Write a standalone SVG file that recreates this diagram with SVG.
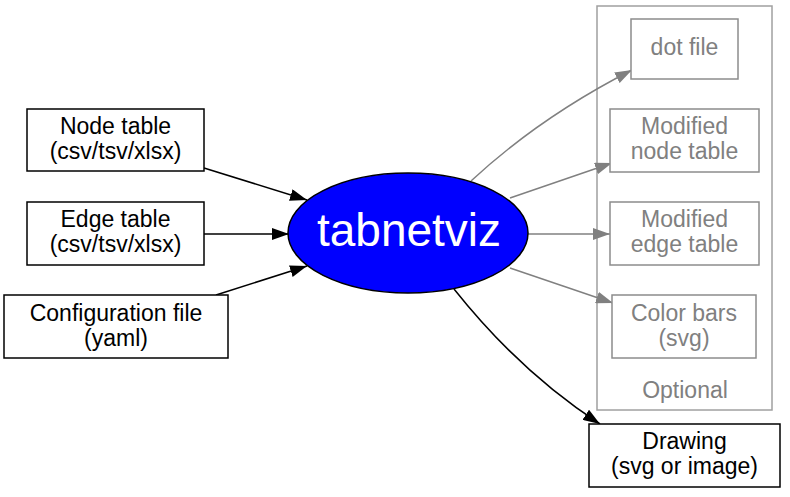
<svg xmlns="http://www.w3.org/2000/svg" width="790" height="497" viewBox="0 0 790 497">
<defs>
<marker id="ab" markerWidth="17" markerHeight="12" refX="17" refY="6" orient="auto" markerUnits="userSpaceOnUse"><path d="M0,0 L17,6 L0,12 Z" fill="#000"/></marker>
<marker id="ag" markerWidth="17" markerHeight="12" refX="17" refY="6" orient="auto" markerUnits="userSpaceOnUse"><path d="M0,0 L17,6 L0,12 Z" fill="#808080"/></marker>
</defs>
<style>
text{font-family:"Liberation Sans",Arial,sans-serif;font-size:23px;text-anchor:middle}
.b{fill:#fff;stroke:#000;stroke-width:1.5}
.g{fill:#fff;stroke:#8c8c8c;stroke-width:1.5}
.gt{fill:#808080}
.e{fill:none;stroke:#000;stroke-width:1.5}
.eg{fill:none;stroke:#808080;stroke-width:1.5}
</style>
<rect width="790" height="497" fill="#fff"/>
<g id="cluster_optional">
<rect x="597" y="6" width="175" height="404" fill="none" stroke="#a0a0a0" stroke-width="1.5"/>
<text x="685" y="398" class="gt">Optional</text>
</g>
<g id="connectors">
<path class="e" d="M204,168 L307,200" marker-end="url(#ab)"/>
<path class="e" d="M204,234 L289,234" marker-end="url(#ab)"/>
<path class="e" d="M216,295 L307,266" marker-end="url(#ab)"/>
<path class="eg" d="M471,181 Q540,117 632,70" marker-end="url(#ag)"/>
<path class="eg" d="M510,198 L612,163" marker-end="url(#ag)"/>
<path class="eg" d="M528,234 L610,234" marker-end="url(#ag)"/>
<path class="eg" d="M510,268 L613,303" marker-end="url(#ag)"/>
<path class="e" d="M454,289 Q520,372 600,424" marker-end="url(#ab)"/>
</g>
<g id="node_table">
<rect class="b" x="27" y="109" width="177" height="62"/>
<text x="115.5" y="134">Node table</text>
<text x="115.5" y="159">(csv/tsv/xlsx)</text>
</g>
<g id="edge_table">
<rect class="b" x="27" y="202" width="177" height="63"/>
<text x="115.5" y="227">Edge table</text>
<text x="115.5" y="252">(csv/tsv/xlsx)</text>
</g>
<g id="config_file">
<rect class="b" x="4" y="295" width="224" height="63"/>
<text x="116" y="321">Configuration file</text>
<text x="116" y="346">(yaml)</text>
</g>
<g id="tabnetviz">
<ellipse cx="408" cy="233" rx="120" ry="60" fill="#0000ff" stroke="#000" stroke-width="1.5"/>
<text x="409" y="246" style="font-size:46px;fill:#fff">tabnetviz</text>
</g>
<g id="dot_file">
<rect class="g" x="631" y="19" width="107" height="60"/>
<text x="684.5" y="55" class="gt">dot file</text>
</g>
<g id="modified_node_table">
<rect class="g" x="610" y="109" width="149" height="63"/>
<text x="684.5" y="134" class="gt">Modified</text>
<text x="684.5" y="159" class="gt">node table</text>
</g>
<g id="modified_edge_table">
<rect class="g" x="610" y="202" width="149" height="63"/>
<text x="684.5" y="227" class="gt">Modified</text>
<text x="684.5" y="252" class="gt">edge table</text>
</g>
<g id="color_bars">
<rect class="g" x="612" y="295" width="144" height="63"/>
<text x="684" y="321" class="gt">Color bars</text>
<text x="684" y="346" class="gt">(svg)</text>
</g>
<g id="drawing">
<rect class="b" x="589" y="424" width="191" height="63"/>
<text x="684.5" y="449">Drawing</text>
<text x="684.5" y="474">(svg or image)</text>
</g>
</svg>
